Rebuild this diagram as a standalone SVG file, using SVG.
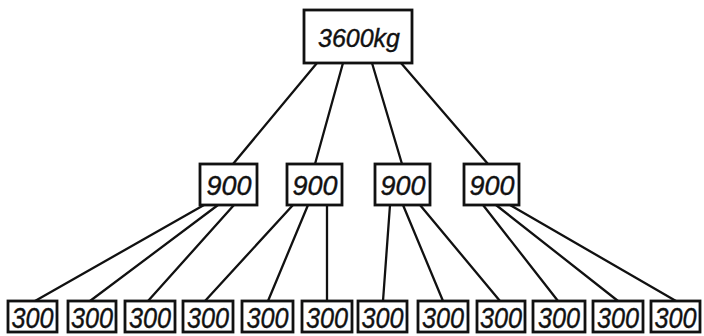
<svg xmlns="http://www.w3.org/2000/svg" width="704" height="336" viewBox="0 0 704 336">
<style>
.box{fill:#fff;stroke:#111;stroke-width:2.8}
.ln{stroke:#111;stroke-width:2.3;fill:none;stroke-linecap:round}
text{font-family:"Liberation Sans",Arial,sans-serif;font-style:italic;fill:#111;text-anchor:middle;stroke:#111;stroke-width:0.4}
.t1{font-size:26px}
.t2{font-size:28px}
.t3{font-size:30px}
</style>
<rect width="704" height="336" fill="#fff"/>
<g id="connectors">
<line class="ln" x1="317" y1="63" x2="233" y2="164"/>
<line class="ln" x1="343" y1="63" x2="315" y2="164"/>
<line class="ln" x1="372" y1="63" x2="402" y2="164"/>
<line class="ln" x1="401" y1="63" x2="488" y2="164"/>
<line class="ln" x1="204" y1="205" x2="35" y2="301"/>
<line class="ln" x1="218" y1="205" x2="90" y2="301"/>
<line class="ln" x1="234" y1="205" x2="148" y2="301"/>
<line class="ln" x1="293" y1="205" x2="205" y2="301"/>
<line class="ln" x1="308" y1="205" x2="268" y2="301"/>
<line class="ln" x1="327" y1="205" x2="327" y2="301"/>
<line class="ln" x1="390" y1="205" x2="383" y2="301"/>
<line class="ln" x1="403" y1="205" x2="443" y2="301"/>
<line class="ln" x1="420" y1="205" x2="500" y2="301"/>
<line class="ln" x1="483" y1="205" x2="558" y2="301"/>
<line class="ln" x1="496" y1="205" x2="618" y2="301"/>
<line class="ln" x1="510" y1="205" x2="676" y2="301"/>
</g>
<g id="n0"><rect class="box" x="304" y="10" width="108" height="53"/><text class="t1" x="359" y="47" textLength="82" lengthAdjust="spacingAndGlyphs">3600kg</text></g>
<g id="n1"><rect class="box" x="200" y="164" width="57" height="41"/><text class="t2" x="229" y="195" textLength="45" lengthAdjust="spacingAndGlyphs">900</text></g>
<g id="n2"><rect class="box" x="287" y="164" width="55" height="41"/><text class="t2" x="315" y="195" textLength="45" lengthAdjust="spacingAndGlyphs">900</text></g>
<g id="n3"><rect class="box" x="375" y="164" width="55" height="41"/><text class="t2" x="403" y="195" textLength="45" lengthAdjust="spacingAndGlyphs">900</text></g>
<g id="n4"><rect class="box" x="464" y="164" width="55" height="41"/><text class="t2" x="492" y="195" textLength="45" lengthAdjust="spacingAndGlyphs">900</text></g>
<g id="m1"><rect class="box" x="8" y="301" width="49" height="31"/><text class="t3" x="32.5" y="328" textLength="42" lengthAdjust="spacingAndGlyphs">300</text></g>
<g id="m2"><rect class="box" x="68" y="301" width="48" height="31"/><text class="t3" x="92" y="328" textLength="42" lengthAdjust="spacingAndGlyphs">300</text></g>
<g id="m3"><rect class="box" x="125" y="301" width="50" height="31"/><text class="t3" x="150" y="328" textLength="42" lengthAdjust="spacingAndGlyphs">300</text></g>
<g id="m4"><rect class="box" x="183" y="301" width="50" height="31"/><text class="t3" x="208" y="328" textLength="42" lengthAdjust="spacingAndGlyphs">300</text></g>
<g id="m5"><rect class="box" x="242" y="301" width="51" height="31"/><text class="t3" x="267.5" y="328" textLength="42" lengthAdjust="spacingAndGlyphs">300</text></g>
<g id="m6"><rect class="box" x="302" y="301" width="50" height="31"/><text class="t3" x="327" y="328" textLength="42" lengthAdjust="spacingAndGlyphs">300</text></g>
<g id="m7"><rect class="box" x="358" y="301" width="49" height="31"/><text class="t3" x="382.5" y="328" textLength="42" lengthAdjust="spacingAndGlyphs">300</text></g>
<g id="m8"><rect class="box" x="418" y="301" width="50" height="31"/><text class="t3" x="443" y="328" textLength="42" lengthAdjust="spacingAndGlyphs">300</text></g>
<g id="m9"><rect class="box" x="477" y="301" width="48" height="31"/><text class="t3" x="501" y="328" textLength="42" lengthAdjust="spacingAndGlyphs">300</text></g>
<g id="m10"><rect class="box" x="533" y="301" width="52" height="31"/><text class="t3" x="559" y="328" textLength="42" lengthAdjust="spacingAndGlyphs">300</text></g>
<g id="m11"><rect class="box" x="593" y="301" width="50" height="31"/><text class="t3" x="618" y="328" textLength="42" lengthAdjust="spacingAndGlyphs">300</text></g>
<g id="m12"><rect class="box" x="651" y="301" width="49" height="31"/><text class="t3" x="675.5" y="328" textLength="42" lengthAdjust="spacingAndGlyphs">300</text></g>
</svg>
